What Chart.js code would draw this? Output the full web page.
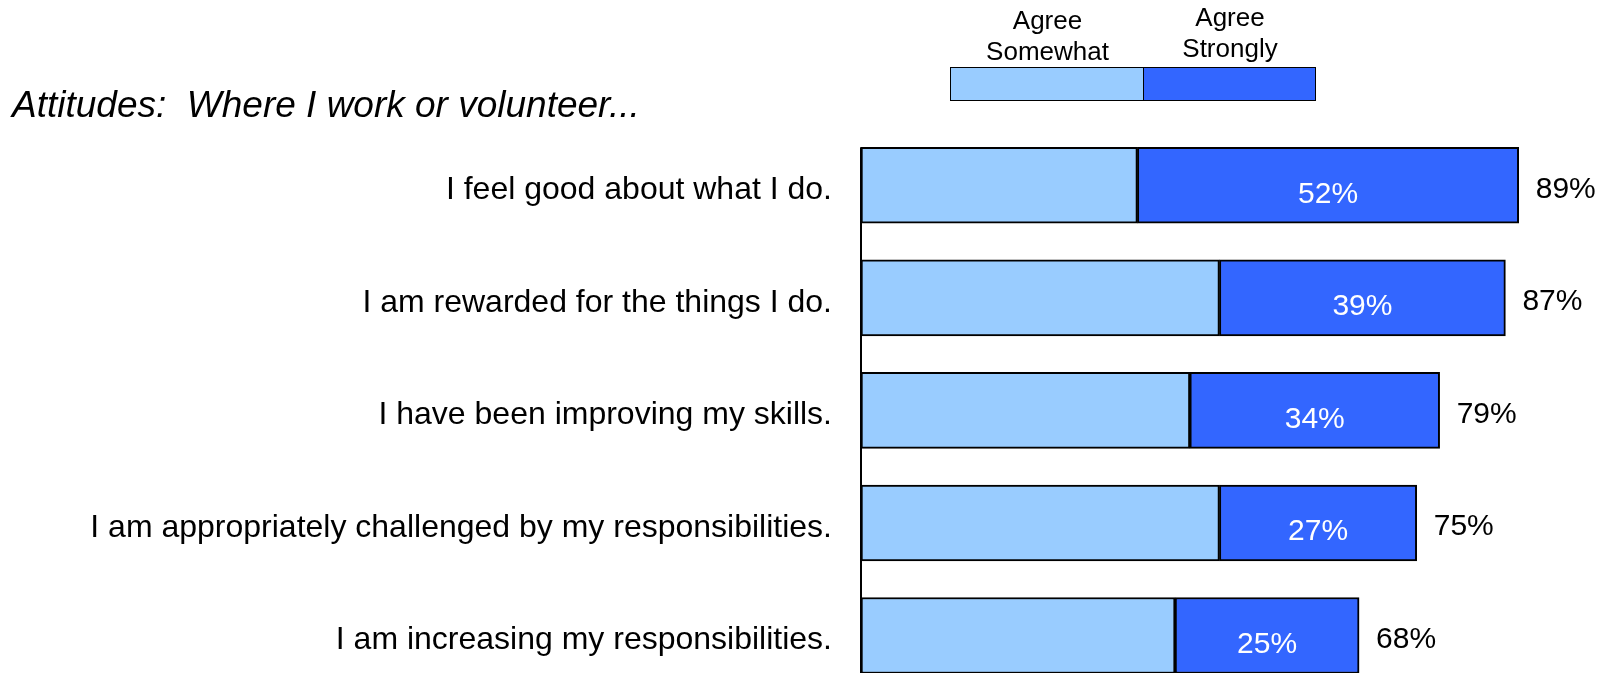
<!DOCTYPE html>
<html>
<head>
<meta charset="utf-8">
<script src="https://cdn.jsdelivr.net/npm/chart.js@4.4.0/dist/chart.umd.min.js"></script>
<style>
  body { margin: 0; width: 1617px; height: 673px; overflow: hidden; background: #fff; font-family: "Liberation Sans", Arial, sans-serif; }
  #wrap { position: absolute; left: 0; top: 0; width: 1617px; height: 740px; }
  #myChart { width: 1617px; height: 740px; display: block; }
  #titulo { position: absolute; left: 12px; top: 86px; font-size: 37px; line-height: 38px; font-style: italic; color: #000; white-space: pre; }
  .leyTxt { position: absolute; font-size: 26px; line-height: 31px; text-align: center; color: #000; }
  .leyBox { position: absolute; top: 67px; height: 34px; border: 1.5px solid #000; box-sizing: border-box; }
</style>
</head>
<body>
<div id="wrap"><canvas id="myChart" width="1617" height="740"></canvas></div>
<div id="titulo">Attitudes:  Where I work or volunteer...</div>
<div class="leyTxt" style="left:950px; width:195px; top:5px;">Agree<br>Somewhat</div>
<div class="leyTxt" style="left:1144px; width:172px; top:2px;">Agree<br>Strongly</div>
<div class="leyBox" style="left:950px; width:195px; background:#99CCFF;"></div>
<div class="leyBox" style="left:1143px; width:173px; background:#3366FF;"></div>
<script>
// datos
var preguntas = [
  'I feel good about what I do.',
  'I am rewarded for the things I do.',
  'I have been improving my skills.',
  'I am appropriately challenged by my responsibilities.',
  'I am increasing my responsibilities.'
];
var algoDeAcuerdo = [37.4, 48.5, 44.5, 48.5, 42.5];   // Agree Somewhat
var muyDeAcuerdo = [51.6, 38.7, 33.8, 26.7, 24.9];    // Agree Strongly
var totales = [89, 87, 79, 75, 68];

// etiquetas de porcentaje y linea del eje
var etiquetas = {
  id: 'etiquetas',
  afterDatasetsDraw: function(chart){
    var ctx = chart.ctx;
    var meta0 = chart.getDatasetMeta(0);
    var meta1 = chart.getDatasetMeta(1);
    ctx.save();
    // eje vertical
    var x0 = chart.scales.x.getPixelForValue(0);
    var b0 = meta0.data[0];
    ctx.strokeStyle = '#000';
    ctx.lineWidth = 2;
    ctx.beginPath();
    ctx.moveTo(x0, b0.y - b0.height / 2);
    ctx.lineTo(x0, chart.chartArea.bottom);
    ctx.stroke();

    ctx.font = '30px "Liberation Sans", Arial, sans-serif';
    ctx.textBaseline = 'middle';
    for (var i = 0; i < muyDeAcuerdo.length; i++) {
      var bar = meta1.data[i];
      ctx.fillStyle = '#fff';
      ctx.textAlign = 'center';
      ctx.fillText(Math.round(muyDeAcuerdo[i]) + '%', (bar.x + bar.base) / 2, bar.y + 9);
      ctx.fillStyle = '#000';
      ctx.textAlign = 'left';
      ctx.fillText(totales[i] + '%', bar.x + 17, bar.y + 4);
    }
    ctx.restore();
  }
};

const ctx = document.getElementById('myChart');
new Chart(ctx, {
  type: 'bar',
  data: {
    labels: preguntas,
    datasets: [{
      label: 'Agree Somewhat',
      data: algoDeAcuerdo,
      backgroundColor: '#99CCFF',
      borderColor: '#000',
      borderWidth: 2,
      borderSkipped: false,
      barThickness: 76
    }, {
      label: 'Agree Strongly',
      data: muyDeAcuerdo,
      backgroundColor: '#3366FF',
      borderColor: '#000',
      borderWidth: 2,
      borderSkipped: false,
      barThickness: 76
    }]
  },
  options: {
    indexAxis: 'y',
    responsive: false,
    animation: false,
    layout: { padding: { top: 129, bottom: 28, right: 17, left: 0 } },
    plugins: {
      legend: { display: false },
      tooltip: { enabled: false }
    },
    scales: {
      x: {
        stacked: true,
        min: 0,
        max: 100,
        display: false
      },
      y: {
        stacked: true,
        grid: { display: false, drawTicks: false },
        border: { display: false },
        ticks: {
          color: '#000',
          padding: 29,
          labelOffset: 5,
          font: { size: 32, family: '"Liberation Sans", Arial, sans-serif' }
        },
        afterFit: function(scale){ scale.width = 861; }
      }
    }
  },
  plugins: [etiquetas]
});
</script>
</body>
</html>
